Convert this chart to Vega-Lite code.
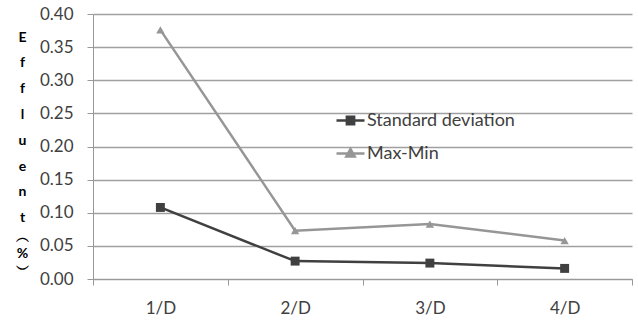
{
  "$schema": "https://vega.github.io/schema/vega-lite/v6.json",
  "width": 539,
  "height": 265,
  "autosize": "none",
  "padding": {"left": 93, "top": 14, "right": 6, "bottom": 44},
  "background": "white",
  "config": {"view": {"stroke": null}, "font": "Lato"},
  "data": {
    "values": [
      {"period": "1/D", "series": "Standard deviation", "value": 0.108},
      {"period": "2/D", "series": "Standard deviation", "value": 0.027},
      {"period": "3/D", "series": "Standard deviation", "value": 0.024},
      {"period": "4/D", "series": "Standard deviation", "value": 0.016},
      {"period": "1/D", "series": "Max-Min", "value": 0.376},
      {"period": "2/D", "series": "Max-Min", "value": 0.073},
      {"period": "3/D", "series": "Max-Min", "value": 0.083},
      {"period": "4/D", "series": "Max-Min", "value": 0.058}
    ]
  },
  "resolve": {"axis": {"y": "independent"}},
  "encoding": {
    "x": {
      "field": "period",
      "type": "nominal",
      "sort": ["1/D", "2/D", "3/D", "4/D"],
      "scale": {"type": "band", "paddingInner": 0, "paddingOuter": 0},
      "axis": {
        "title": null,
        "labelAngle": 0,
        "labelFont": "Lato",
        "labelFontSize": 17,
        "labelColor": "#404040",
        "labelPadding": 15,
        "tickBand": "extent",
        "tickSize": 6,
        "tickColor": "#999999",
        "domainColor": "#999999",
        "grid": false
      }
    },
    "color": {
      "field": "series",
      "type": "nominal",
      "scale": {"domain": ["Standard deviation", "Max-Min"], "range": ["#404040", "#969696"]},
      "legend": {
        "orient": "none",
        "legendX": 242,
        "legendY": 91,
        "title": null,
        "padding": 0,
        "symbolSize": 784,
        "symbolStrokeWidth": 2.5,
        "labelFont": "Lato",
        "labelFontSize": 18,
        "labelColor": "#404040",
        "labelOffset": 1,
        "rowPadding": 8,
        "encode": {
          "symbols": {
            "update": {
              "shape": {"signal": "datum.value === 'Standard deviation' ? 'M-1,0H1M-0.26,-0.26H0.26V0.26H-0.26Z' : 'M-1,0H1M0,-0.32L0.3,0.22H-0.3Z'"},
              "size": {"value": 784},
              "fill": {"scale": "color", "field": "value"},
              "stroke": {"scale": "color", "field": "value"},
              "strokeWidth": {"value": 2.5},
              "opacity": {"value": 1}
            }
          }
        }
      }
    }
  },
  "layer": [
    {
      "mark": {"type": "line", "strokeWidth": 2.5},
      "encoding": {
        "y": {
          "field": "value",
          "type": "quantitative",
          "scale": {"domain": [0, 0.4], "nice": false},
          "axis": {
            "orient": "left",
            "values": [0, 0.05, 0.1, 0.15, 0.2, 0.25, 0.3, 0.35, 0.4],
            "format": ".2f",
            "grid": true,
            "gridColor": "#a0a0a0",
            "gridWidth": 1.3,
            "domainColor": "#999999",
            "tickColor": "#999999",
            "tickSize": 6,
            "labelPadding": 14,
            "labelFont": "Lato",
            "labelFontSize": 17,
            "labelColor": "#404040",
            "title": ["E", "f", "f", "l", "u", "e", "n", "t"],
            "titleAngle": 0,
            "titleX": -71,
            "titleY": 23,
            "titleAlign": "center",
            "titleBaseline": "middle",
            "titleLineHeight": 25.8,
            "titleFont": "Lato",
            "titleFontSize": 14,
            "titleFontWeight": "bold",
            "titleColor": "#000000"
          }
        }
      }
    },
    {
      "transform": [{"filter": "datum.series === 'Standard deviation'"}],
      "mark": {"type": "point", "shape": "square", "size": 80, "filled": true, "opacity": 1},
      "encoding": {
        "y": {
          "field": "value",
          "type": "quantitative",
          "scale": {"domain": [0, 0.4], "nice": false},
          "axis": {
            "orient": "left",
            "labels": false,
            "ticks": false,
            "domain": false,
            "grid": false,
            "title": ["︵", "%", "︶"],
            "titleAngle": 0,
            "titleX": -71,
            "titleY": 223,
            "titleAlign": "center",
            "titleBaseline": "middle",
            "titleLineHeight": 16,
            "titleFont": "Lato",
            "titleFontSize": 14,
            "titleFontWeight": "bold",
            "titleColor": "#000000"
          }
        }
      }
    },
    {
      "transform": [{"filter": "datum.series === 'Max-Min'"}],
      "mark": {"type": "point", "shape": "triangle-up", "size": 70, "filled": true, "opacity": 1},
      "encoding": {
        "y": {
          "field": "value",
          "type": "quantitative",
          "scale": {"domain": [0, 0.4], "nice": false},
          "axis": null
        }
      }
    }
  ]
}
